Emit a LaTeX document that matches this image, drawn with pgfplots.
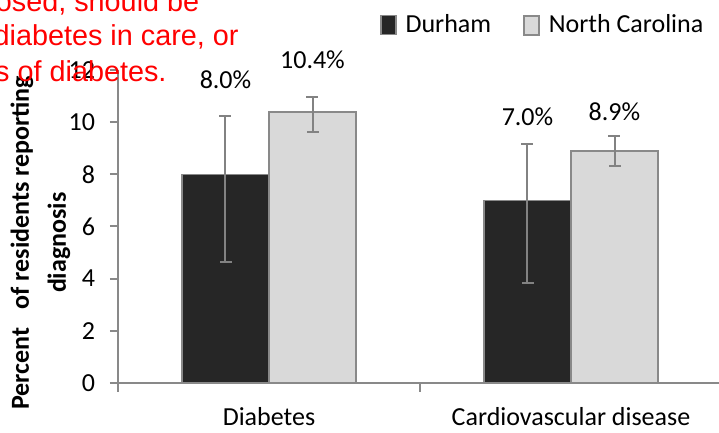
\documentclass[border=0pt]{standalone}
\usepackage{fontspec}
\setmainfont{Carlito}
\newfontfamily\redfont{Liberation Sans}
\usepackage{pgfplots}
\pgfplotsset{compat=1.18}
\definecolor{axgray}{RGB}{137,137,137}
\definecolor{durham}{RGB}{38,38,38}
\definecolor{ncgray}{RGB}{217,217,217}
\definecolor{errgray}{RGB}{130,130,130}
\newcommand\cf{\fontsize{13pt}{15.6pt}\selectfont}
\pgfplotsset{errstyle/.style={
  error bars/y dir=both, error bars/y explicit,
  error bars/error bar style={draw=errgray, line width=1pt},
  error bars/error mark options={rotate=90, mark size=3pt, draw=errgray, line width=1pt}}}
\begin{document}
\begin{tikzpicture}
\useasboundingbox (0,0) rectangle (359.5pt,216.5pt);
\clip (0,0) rectangle (359.5pt,216.5pt);
\begin{axis}[
  at={(59pt,25.15pt)}, anchor=south west,
  width=302pt, height=156.25pt, scale only axis,
  ybar=0pt, bar width=43.5pt,
  ymin=0, ymax=12, ytick={0,2,...,12},
  xmin=-0.5, xmax=1.5,
  xtick={0,1}, xticklabels={Diabetes,Cardiovascular disease},
  minor xtick={-0.5,0.5,1.5},
  axis lines=left,
  axis line style={-, draw=axgray, line width=1pt},
  tick align=outside,
  major tick length=4pt, minor tick length=4.5pt,
  major x tick style={draw=none},
  minor x tick style={draw=axgray, line width=1pt},
  major y tick style={draw=axgray, line width=1pt},
  /pgf/number format/assume math mode=true,
  tick label style={font=\cf},
  yticklabel style={xshift=-4pt},
  xticklabel style={yshift=-5pt},
  ylabel={Percent\hspace{0.7em}of residents reporting\\[3pt]diagnosis},
  ylabel style={font=\cf\bfseries, align=center, at={(axis description cs:-0.1284,0.448)}, anchor=center},
  clip=false,
  legend columns=2,
  legend style={draw=none, fill=none, font=\cf, at={(axis description cs:0.4238,1.206)}, anchor=north west,
    /tikz/every odd column/.append style={column sep=2.5pt},
    /tikz/every even column/.append style={column sep=14pt}},
  legend image code/.code={\draw[#1] (0pt,-5pt) rectangle (7.5pt,4.5pt);},
]
\addplot[fill=durham, draw=axgray, line width=0.6pt, errstyle] coordinates {
  (0,8.0) += (0,2.24) -= (0,3.35)
  (1,7.0) += (0,2.17) -= (0,3.18)
};
\addplot[fill=ncgray, draw=axgray, line width=0.8pt, errstyle] coordinates {
  (0,10.4) += (0,0.58) -= (0,0.78)
  (1,8.9) += (0,0.57) -= (0,0.58)
};
\legend{Durham,North Carolina}
\node[font=\cf] at (axis cs:-0.144,11.62) {8.0\%};
\node[font=\cf] at (axis cs:0.144,12.39) {10.4\%};
\node[font=\cf] at (axis cs:0.856,10.2) {7.0\%};
\node[font=\cf] at (axis cs:1.144,10.4) {8.9\%};
\end{axis}
\begin{scope}[font=\redfont\fontsize{14.4pt}{17pt}\selectfont, text=red, inner sep=0pt]
\node[anchor=base west] at (-2.25pt,210.5pt) {osed, should be};
\node[anchor=base west] at (-3.4pt,193.5pt) {diabetes in care, or};
\node[anchor=base west] at (-2.6pt,175.75pt) {s of diabetes.};
\end{scope}
\end{tikzpicture}
\end{document}
